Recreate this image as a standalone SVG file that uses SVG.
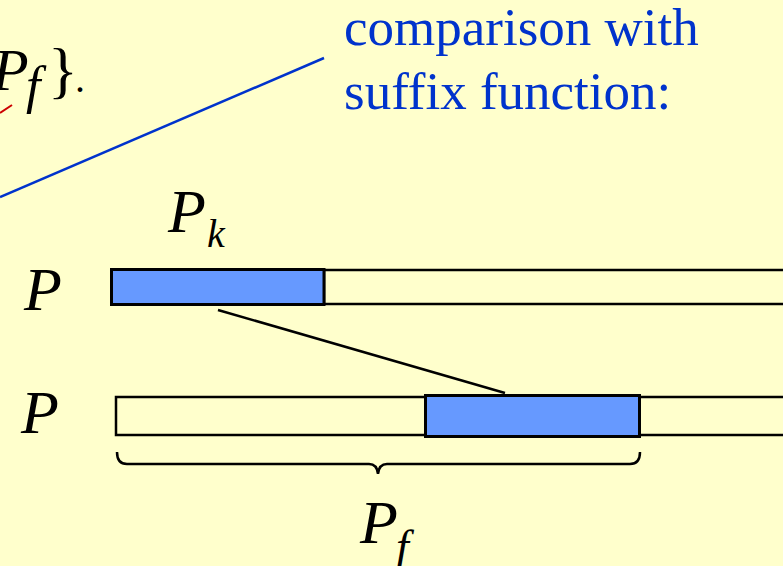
<svg xmlns="http://www.w3.org/2000/svg" width="783" height="566" viewBox="0 0 783 566">
<style>
.math{font-family:"Liberation Serif","Times New Roman",serif;font-style:italic;fill:#000}
.rm{font-family:"Liberation Serif","Times New Roman",serif;fill:#000}
.note{font-family:"Liberation Serif","Times New Roman",serif;fill:#0033CC;font-size:53px}
.bar{fill:#FFFFCC;stroke:#000;stroke-width:2.5}
.hi{fill:#6699FF;stroke:#000;stroke-width:3}
.ln{fill:none;stroke:#000;stroke-width:2.5}
</style>
<rect width="783" height="566" fill="#FFFFCC"/>
<g id="top-formula">
<text class="math" x="-8" y="90" font-size="60">P</text>
<text class="math" x="26" y="103" font-size="52">f</text>
<text class="rm" x="48" y="91" font-size="62">}</text>
<text class="rm" x="75" y="92" font-size="40">.</text>
<line x1="0" y1="113" x2="12" y2="105" stroke="#CC0000" stroke-width="2"/>
</g>
<g id="note">
<text class="note" x="344" y="45">comparison with</text>
<text class="note" x="344" y="109">suffix function:</text>
</g>
<g id="labels">
<text class="math" x="168" y="232" font-size="62">P</text>
<text class="math" x="207" y="247" font-size="40">k</text>
<text class="math" x="24" y="310" font-size="62">P</text>
<text class="math" x="21" y="433" font-size="62">P</text>
<text class="math" x="360" y="543" font-size="62">P</text>
<text class="math" x="396" y="562" font-size="46">f</text>
</g>
<g id="bar1">
<rect class="bar" x="324" y="270" width="470" height="34"/>
<rect class="hi" x="111.5" y="269.5" width="212.5" height="35"/>
</g>
<g id="bar2">
<rect class="bar" x="116" y="397" width="680" height="38"/>
<rect class="hi" x="425.5" y="395.5" width="214" height="41"/>
</g>
<g id="connectors">
<line x1="0" y1="197" x2="324" y2="58" stroke="#0033CC" stroke-width="2.5"/>
<line class="ln" x1="218" y1="310" x2="505" y2="393"/>
<path class="ln" d="M117,452 Q117,464 127,464 L369,464 Q377,464 378,474 Q379,464 387,464 L630,464 Q640,464 640,452"/>
</g>
</svg>
